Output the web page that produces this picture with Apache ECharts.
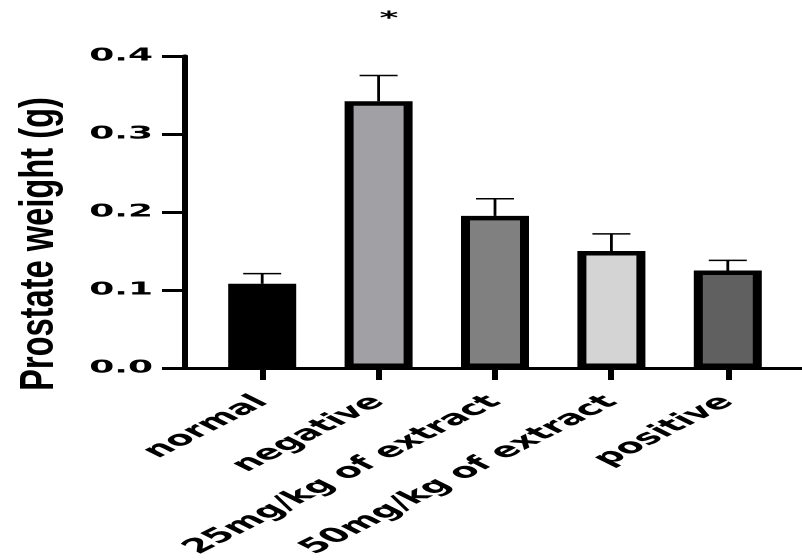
<!DOCTYPE html>
<html>
<head>
<meta charset="utf-8">
<script src="https://cdn.jsdelivr.net/npm/echarts@6/dist/echarts.min.js"></script>
<style>
  html, body { margin: 0; padding: 0; background: #fff; overflow: hidden; }
  /* the reference is stretched 2x horizontally, so draw at half width and stretch */
  #chart { width: 401px; height: 560px; transform: scaleX(2); transform-origin: 0 0; }
</style>
</head>
<body>
<div id="chart"></div>
<script>
const categories = ["normal", "negative", "25mg/kg of extract", "50mg/kg of extract", "positive"];
const means = [0.108, 0.342, 0.195, 0.150, 0.125];
const errors = [0.013, 0.033, 0.022, 0.022, 0.013];
const barColors = ["#000000", "#a1a1a5", "#808080", "#d4d4d4", "#606060"];
const yMin = 0;
const yMax = 0.4;
const yStep = 0.1;
const yTitle = "Prostate weight (g)";
const starText = "*";

const chart = echarts.init(document.getElementById("chart"), null, {
  renderer: "canvas",
  devicePixelRatio: 2
});

const errorData = means.map((m, i) => [i, m, m + errors[i]]);

chart.setOption({
  animation: false,
  backgroundColor: "#ffffff",
  grid: [
    { left: 102, right: 8, top: 56, bottom: 192, outerBoundsMode: "none" },
    { left: 92.5, right: 0, top: 56, bottom: 192, outerBoundsMode: "none" }
  ],
  xAxis: [
    {
      type: "category",
      gridIndex: 0,
      data: categories,
      axisLine: { show: false },
      axisTick: {
        show: true,
        alignWithLabel: true,
        length: 12,
        lineStyle: { color: "#000", width: 3 }
      },
      axisLabel: {
        rotate: 45,
        margin: 31,
        color: "#000",
        fontFamily: "DejaVu Sans",
        fontWeight: "bold",
        fontSize: 20,
        interval: 0
      }
    },
    {
      type: "value",
      gridIndex: 1,
      min: 0,
      max: 1,
      axisLine: { show: true, onZero: false, lineStyle: { color: "#000", width: 3 } },
      axisTick: { show: false },
      axisLabel: { show: false },
      splitLine: { show: false }
    }
  ],
  yAxis: [
    {
      type: "value",
      gridIndex: 0,
      min: yMin,
      max: yMax,
      interval: yStep,
      offset: 9.5,
      axisLine: { show: true, lineStyle: { color: "#000", width: 3 } },
      axisTick: { show: true, length: 11.5, lineStyle: { color: "#000", width: 3 } },
      axisLabel: {
        margin: 16,
        color: "#000",
        fontFamily: "DejaVu Sans",
        fontWeight: "bold",
        fontSize: 18,
        formatter: (v) => v.toFixed(1)
      },
      splitLine: { show: false }
    },
    {
      type: "value",
      gridIndex: 1,
      show: false,
      min: 0,
      max: 1
    }
  ],
  series: [
    {
      type: "bar",
      xAxisIndex: 0,
      yAxisIndex: 0,
      barWidth: 34,
      data: means.map((m, i) => ({
        value: m,
        itemStyle: {
          color: barColors[i],
          borderColor: "#000",
          borderWidth: 4.5
        }
      })),
      z: 2
    },
    {
      type: "custom",
      xAxisIndex: 0,
      yAxisIndex: 0,
      data: errorData,
      z: 3,
      renderItem(params, api) {
        const base = api.coord([api.value(0), api.value(1)]);
        const top = api.coord([api.value(0), api.value(2)]);
        const half = 9.5;
        return {
          type: "group",
          children: [
            {
              type: "line",
              shape: { x1: base[0], y1: base[1], x2: top[0], y2: top[1] },
              style: { stroke: "#000", lineWidth: 1.4 }
            },
            {
              type: "line",
              shape: { x1: top[0] - half, y1: top[1], x2: top[0] + half, y2: top[1] },
              style: { stroke: "#000", lineWidth: 1.5 }
            }
          ]
        };
      }
    }
  ],
  graphic: [
    {
      type: "text",
      x: 20,
      y: 244,
      rotation: Math.PI / 2,
      scaleX: 1.36,
      style: {
        text: yTitle,
        fontFamily: "Liberation Sans",
        fontWeight: "bold",
        fontSize: 24,
        fill: "#000",
        align: "center",
        verticalAlign: "middle"
      }
    },
    {
      type: "text",
      x: 194.5,
      y: 19,
      style: {
        text: starText,
        fontFamily: "DejaVu Sans",
        fontWeight: "bold",
        fontSize: 18,
        fill: "#000",
        align: "center",
        verticalAlign: "middle"
      }
    }
  ]
});
</script>
</body>
</html>
